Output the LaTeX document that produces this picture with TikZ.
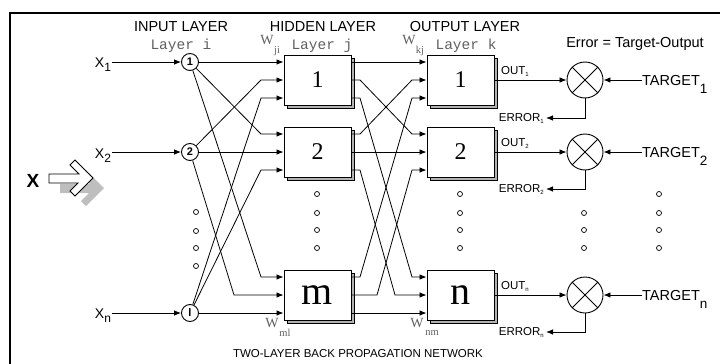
\documentclass[tikz,border=0pt]{standalone}
\usepackage{fontspec}
\setmainfont{Liberation Sans}
\newfontfamily\serifface{Liberation Serif}
\newfontfamily\monoface{Liberation Mono}
\usetikzlibrary{arrows.meta,calc,shadows}
\definecolor{labelgray}{RGB}{95,95,95}
\definecolor{shadowgray}{RGB}{190,190,190}
\newcommand\tinysub[1]{\raisebox{-2pt}{\fontsize{6}{6}\selectfont #1}}

\begin{document}
\begin{tikzpicture}[x=1pt,y=-1pt,
  wire/.style={line width=0.8pt},
  arr/.style={wire,-{Latex[length=7pt,width=5.5pt]}},
  neuron/.style={circle,draw,line width=0.9pt,minimum size=17pt,inner sep=0pt,
    font=\bfseries\fontsize{11}{11}\selectfont},
  unitbox/.style={draw,line width=0.9pt,fill=white,minimum width=67pt,minimum height=50pt,
    inner sep=0pt,font=\serifface\fontsize{24}{24}\selectfont,
    drop shadow={shadow xshift=3pt,shadow yshift=-3pt,fill=gray!60,draw=black,
      opacity=1,line width=0.7pt}},
  bigunit/.style={unitbox,font=\serifface\fontsize{40}{40}\selectfont},
  summer/.style={circle,draw,line width=0.9pt,minimum size=36pt,inner sep=0pt},
  heading/.style={font=\fontsize{14.5}{15}\selectfont,inner sep=0pt},
  layername/.style={font=\monoface\fontsize{14.5}{15}\selectfont,text=labelgray,inner sep=0pt},
  weight/.style={font=\serifface\fontsize{14}{14}\selectfont,text=labelgray,inner sep=0pt},
  wsub/.style={font=\serifface\fontsize{10.5}{11}\selectfont,text=labelgray,inner sep=0pt},
  inlabel/.style={font=\fontsize{14}{14}\selectfont,inner sep=1pt},
  smalllabel/.style={font=\fontsize{11.5}{12}\selectfont,inner sep=1pt},
  dot/.style={circle,draw,line width=0.7pt,minimum size=5pt,inner sep=0pt},
]
\useasboundingbox (0,0) rectangle (720,364);
\draw[line width=2pt] (10,365) -- (10,13) -- (721,13);

% headings
\node[heading] (hin) at (181,27) {INPUT LAYER};
\node[heading] (hhid) at (323,27) {HIDDEN LAYER};
\node[heading] (hout) at (465,27) {OUTPUT LAYER};
\node[layername] (li) at (181,46) {Layer i};
\node[layername] (lj) at (322,46) {Layer j};
\node[layername] (lk) at (466,46) {Layer k};
\node[heading] (errdef) at (635,44) {Error = Target-Output};

% weight labels
\node[weight] (wji) at (267,40) {W};
\node[wsub] (wjis) at (277,51) {ji};
\node[weight] (wkj) at (409,40) {W};
\node[wsub] (wkjs) at (420,51) {kj};
\node[weight] (wml) at (272,323) {W};
\node[wsub] (wmls) at (285,333) {ml};
\node[weight] (wnm) at (417,323) {W};
\node[wsub] (wnms) at (432,333) {nm};

% input vector arrow with its shadow
\fill[shadowgray,shift={(11,10)}] (49,174) -- (79,174) -- (70,165) -- (75,160) -- (93,178)
  -- (75,196) -- (70,191) -- (78,183) -- (49,183) -- cycle;
\filldraw[fill=white,draw=black,line width=0.8pt] (49,174) -- (79,174) -- (70,165) -- (75,160)
  -- (93,178) -- (75,196) -- (70,191) -- (78,183) -- (49,183) -- cycle;
\node[font=\bfseries\fontsize{19}{19}\selectfont,inner sep=0pt] (xvec) at (33,181) {X};

% input layer
\node[neuron] (i1) at (190,62) {1};
\node[neuron] (i2) at (190,152) {2};
\node[neuron] (in) at (190,313) {l};
\node[inlabel] (x1) at (103,65) {X\raisebox{-4pt}{\fontsize{12}{12}\selectfont 1}};
\node[inlabel] (x2) at (103,156) {X\raisebox{-4pt}{\fontsize{12}{12}\selectfont 2}};
\node[inlabel] (xn) at (103,316) {X\raisebox{-4pt}{\fontsize{12}{12}\selectfont n}};
\draw[arr] (x1.east |- i1) -- (i1);
\draw[arr] (x2.east |- i2) -- (i2);
\draw[arr] (xn.east |- in) -- (in);

% hidden and output units
\node[unitbox] (h1) at (317.5,80) {1};
\node[unitbox] (h2) at (317.5,152) {2};
\node[bigunit] (hm) at (317.5,295) {m};
\node[unitbox] (o1) at (460.5,80) {1};
\node[unitbox] (o2) at (460.5,152) {2};
\node[bigunit] (on) at (460.5,295) {n};

% ports on the unit boxes
\foreach \b in {h1,h2,hm,o1,o2,on}{
  \coordinate (\b a) at ($(\b.west)+(0,-18)$);
  \coordinate (\b b) at (\b.west);
  \coordinate (\b c) at ($(\b.west)+(0,18)$);
  \coordinate (\b A) at ($(\b.east)+(0,-18)$);
  \coordinate (\b B) at (\b.east);
  \coordinate (\b C) at ($(\b.east)+(0,18)$);
}
% bend columns
\coordinate (bendA) at (261,0);
\coordinate (bendB) at (234,0);
\coordinate (stubA) at (360,0);
\coordinate (stubB) at (377,0);
\coordinate (bendC) at (412,0);
\coordinate (bendD) at (395,0);

% input -> hidden
\draw[arr] (i1) -- (h1a);
\draw[arr] (i1) -- (bendA |- h2a) -- (h2a);
\draw[arr] (i1) -- (bendA |- hma) -- (hma);
\draw[arr] (i2) -- (bendA |- h1b) -- (h1b);
\draw[arr] (i2) -- (h2b);
\draw[arr] (i2) -- (bendB |- hmb) -- (hmb);
\draw[arr] (in) -- (bendA |- h1c) -- (h1c);
\draw[arr] (in) -- (bendA |- h2c) -- (h2c);
\draw[arr] (in) -- (hmc);

% hidden -> output
\draw[arr] (h1A) -- (o1a);
\draw[arr] (h1B) -- (stubA |- h1B) -- (bendC |- o2a) -- (o2a);
\draw[arr] (h1C) -- (stubA |- h1C) -- (bendC |- ona) -- (ona);
\draw[arr] (h2A) -- (stubA |- h2A) -- (bendC |- o1b) -- (o1b);
\draw[arr] (h2B) -- (o2b);
\draw[arr] (h2C) -- (stubA |- h2C) -- (bendD |- onb) -- (onb);
\draw[arr] (hmA) -- (stubA |- hmA) -- (bendC |- o1c) -- (o1c);
\draw[arr] (hmB) -- (stubB |- hmB) -- (bendC |- o2c) -- (o2c);
\draw[arr] (hmC) -- (onc);

% error junctions
\foreach \s/\y in {s1/80,s2/152,sn/295}{
  \node[summer] (\s) at (585,\y) {};
  \draw[wire] (\s.north east) -- (\s.south west);
  \draw[wire] (\s.north west) -- (\s.south east);
}
\draw[arr] (o1.east) -- (s1);
\draw[arr] (o2.east) -- (s2);
\draw[arr] (on.east) -- (sn);
\node[smalllabel,anchor=base west] (out1) at (500,74) {OUT\tinysub{1}};
\node[smalllabel,anchor=base west] (out2) at (500,146) {OUT\tinysub{2}};
\node[smalllabel,anchor=base west] (outn) at (500,289) {OUT\tinysub{n}};

% targets
\node[heading,anchor=base west] (t1) at (642,85) {TARGET\raisebox{-8pt}{\fontsize{13.5}{14}\selectfont 1}};
\node[heading,anchor=base west] (t2) at (642,157) {TARGET\raisebox{-8pt}{\fontsize{13.5}{14}\selectfont 2}};
\node[heading,anchor=base west] (tn) at (642,300) {TARGET\raisebox{-8pt}{\fontsize{13.5}{14}\selectfont n}};
\draw[arr] (t1.west |- s1) -- (s1);
\draw[arr] (t2.west |- s2) -- (s2);
\draw[arr] (tn.west |- sn) -- (sn);

% error outputs
\node[smalllabel,anchor=east,inner sep=2pt] (e1) at (546,118) {ERROR\tinysub{1}};
\node[smalllabel,anchor=east,inner sep=2pt] (e2) at (546,189) {ERROR\tinysub{2}};
\node[smalllabel,anchor=east,inner sep=2pt] (en) at (546,332) {ERROR\tinysub{n}};
\draw[arr] (s1) -- (s1 |- e1) -- (e1);
\draw[arr] (s2) -- (s2 |- e2) -- (e2);
\draw[arr] (sn) -- (sn |- en) -- (en);

% ellipsis dots
\foreach \y [count=\k] in {212,231,248,266}{\node[dot] (di\k) at (196,\y) {};}
\foreach \y [count=\k] in {194,213,230,248}{
  \node[dot] (dh\k) at (317,\y) {};
  \node[dot] (do\k) at (460,\y) {};
  \node[dot] (dt\k) at (659,\y) {};
}
\foreach \y [count=\k] in {213,230,248}{\node[dot] (de\k) at (584,\y) {};}

% caption
\node[smalllabel] (cap) at (358,354) {TWO-LAYER BACK PROPAGATION NETWORK};
\end{tikzpicture}
\end{document}
